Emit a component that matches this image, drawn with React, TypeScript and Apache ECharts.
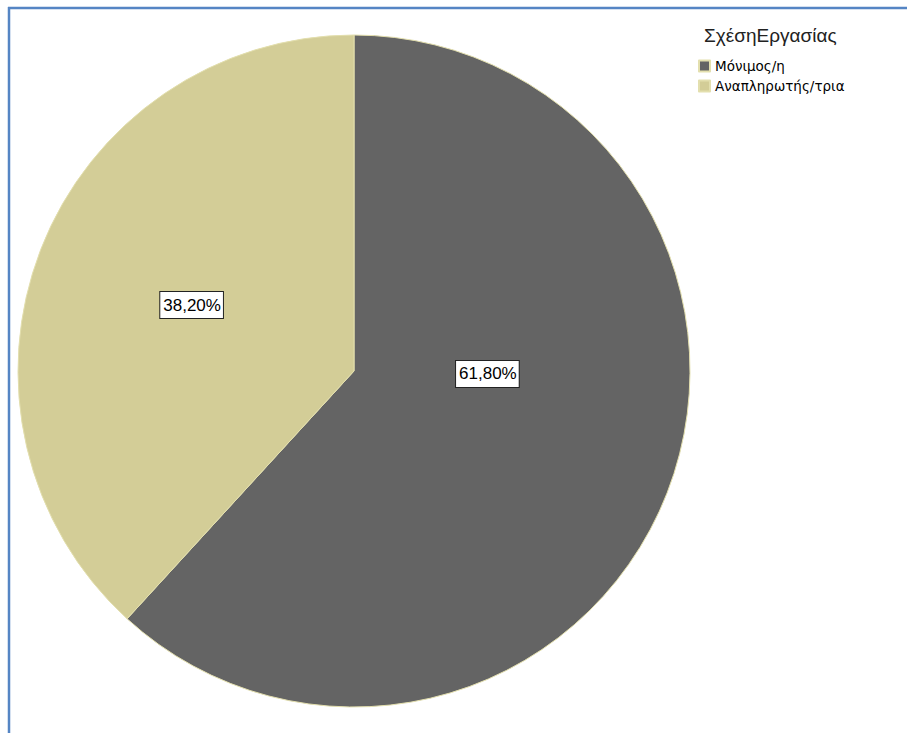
import React, { useEffect, useRef } from "react";
import * as echarts from "echarts";

const CATEGORIES = ["Μόνιμος/η", "Αναπληρωτής/τρια"];
const VALUES = [61.8, 38.2];
const COLORS = ["#646464", "#d3cd97"];
const LEGEND_TITLE = "ΣχέσηΕργασίας";
// label nudges (px) relative to ECharts' default inside position
const LABEL_SHIFT = [
  [-26, -59],
  [-3, -4],
];

const FONT = "'Liberation Sans', Arial, sans-serif";
const LEGEND_FONT = "'DejaVu Sans', Verdana, sans-serif";

export default function App() {
  const ref = useRef<HTMLDivElement>(null);
  useEffect(() => {
    const chart = echarts.init(ref.current!, null, { renderer: "svg" });
    chart.setOption({
      animation: false,
      backgroundColor: "#ffffff",
      title: {
        text: LEGEND_TITLE,
        left: 699,
        top: 21,
        textStyle: { fontFamily: FONT, fontSize: 19, fontWeight: "normal", color: "#222" },
      },
      legend: {
        orient: "vertical",
        left: 693,
        top: 54,
        itemWidth: 11,
        itemHeight: 11,
        itemGap: 6,
        icon: "rect",
        textStyle: { fontFamily: LEGEND_FONT, fontSize: 13.5, color: "#000" },
        data: CATEGORIES,
      },
      graphic: [
        { type: "line", shape: { x1: 8, y1: 8, x2: 907, y2: 8 }, style: { stroke: "#5585c4", lineWidth: 2.5 } },
        { type: "line", shape: { x1: 9, y1: 7, x2: 9, y2: 733 }, style: { stroke: "#5585c4", lineWidth: 2.5 } },
      ],
      series: [
        {
          type: "pie",
          center: [354, 371],
          radius: 336,
          startAngle: 90,
          clockwise: true,
          data: CATEGORIES.map((name, i) => ({
            name,
            value: VALUES[i],
            itemStyle: { color: COLORS[i] },
          })),
          itemStyle: { borderColor: "#e3dfae", borderWidth: 1 },
          emphasis: { disabled: true },
          label: {
            show: true,
            position: "inside",
            formatter: (p: any) => p.percent.toFixed(2).replace(".", ",") + "%",
            fontFamily: FONT,
            fontSize: 17,
            color: "#000",
            backgroundColor: "#ffffff",
            borderColor: "#222",
            borderWidth: 1,
            padding: [5, 2, 4, 3],
          },
          labelLayout: (params: any) => ({
            dx: LABEL_SHIFT[params.dataIndex][0],
            dy: LABEL_SHIFT[params.dataIndex][1],
          }),
          labelLine: { show: false },
        },
      ],
    });
    return () => chart.dispose();
  }, []);
  return (
    <div
      ref={ref}
      style={{ position: "fixed", left: 0, top: 0, width: 907, height: 733 }}
    />
  );
}
